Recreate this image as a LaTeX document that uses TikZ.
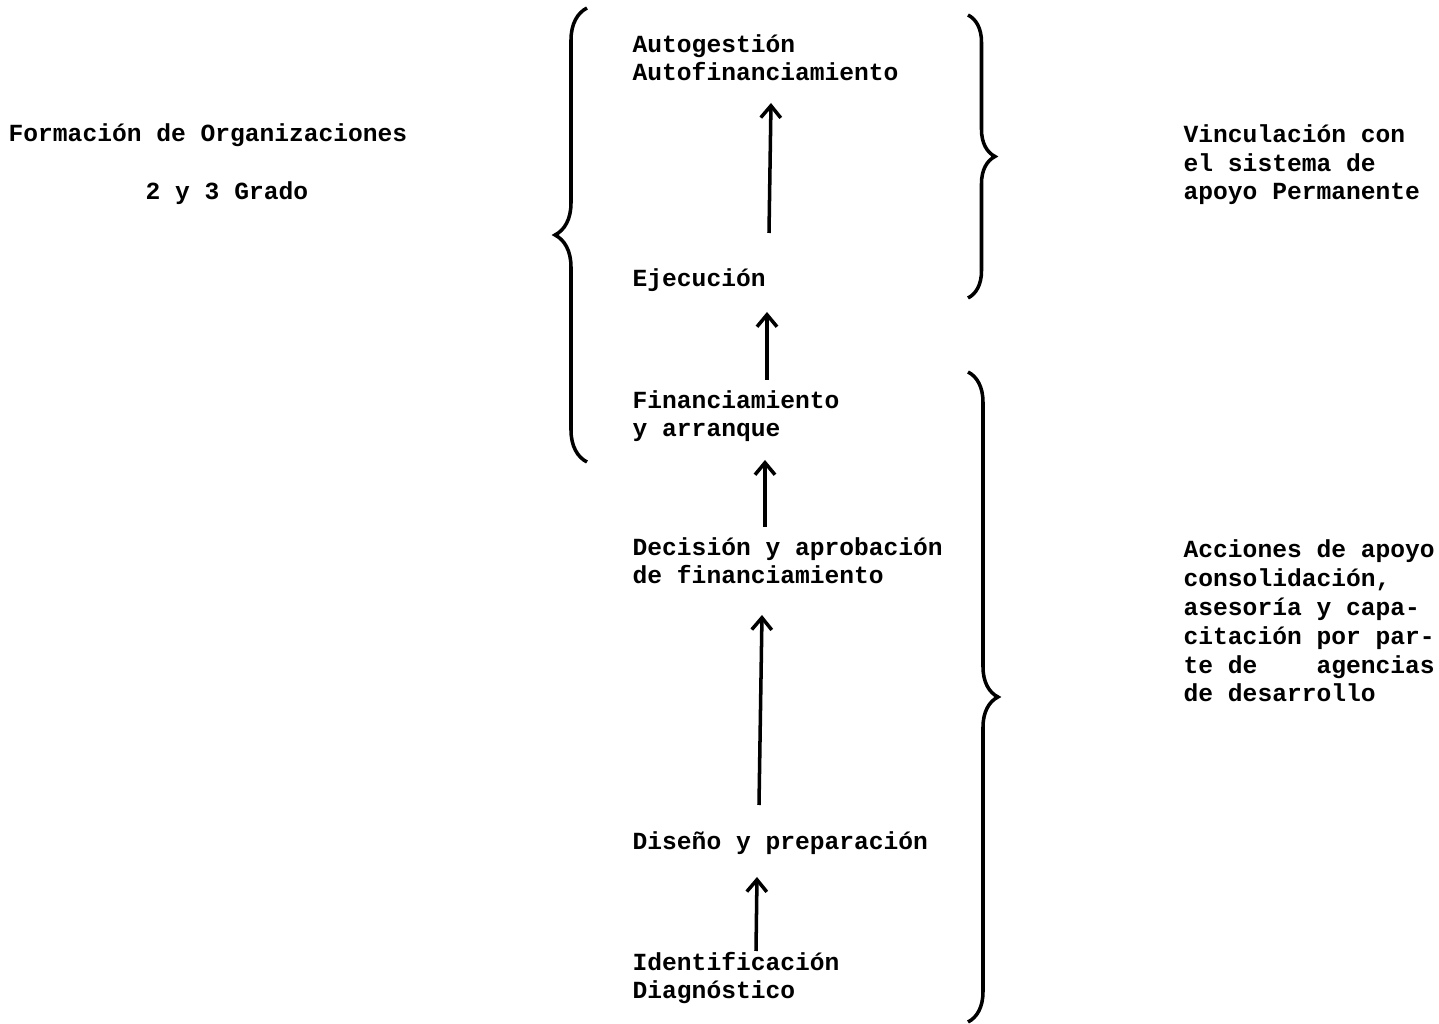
\documentclass[tikz,border=0pt]{standalone}
\usepackage{fontspec}
\setmainfont{Liberation Mono}
\usepackage{tikz}
\usetikzlibrary{arrows.meta,decorations.pathreplacing}
\tikzstyle{txt}=[anchor=base west,inner sep=0pt,align=left,
  font=\fontsize{7}{8.2}\selectfont\bfseries]
\tikzstyle{flecha}=[line width=1pt,-{Straight Barb[length=1.2mm,width=2mm,line width=1pt]}]
\tikzstyle{llave}=[line width=1pt,decorate]
\tikzstyle{none}=[inner sep=0pt]

\begin{document}
\begin{tikzpicture}
            \useasboundingbox (0, 0) rectangle (14.39, 10.24);
            \node [style=txt] (0) at (0.08, 8.82) {Formación de Organizaciones};
            \node [style=txt] (1) at (1.45, 8.24) {2 y 3 Grado};
            \node [style=txt] (2) at (6.32, 9.43) {Autogestión\\Autofinanciamiento};
            \node [style=txt] (3) at (6.32, 7.37) {Ejecución};
            \node [style=txt] (4) at (6.32, 5.87) {Financiamiento\\y arranque};
            \node [style=txt] (5) at (6.32, 4.40) {Decisión y aprobación\\de financiamiento};
            \node [style=txt] (6) at (6.32, 1.74) {Diseño y preparación};
            \node [style=txt] (7) at (6.32, 0.25) {Identificación\\Diagnóstico};
            \node [style=txt] (8) at (11.83, 8.24) {Vinculación con\\el sistema de\\apoyo Permanente};
            \node [style=txt] (9) at (11.83, 3.22) {Acciones de apoyo\\consolidación,\\asesoría y capa-\\citación por par-\\te de~~~~agencias\\de desarrollo};
            \node [style=none] (10) at (7.69, 7.91) {};
            \node [style=none] (11) at (7.71, 9.21) {};
            \node [style=none] (12) at (7.67, 6.44) {};
            \node [style=none] (13) at (7.67, 7.12) {};
            \node [style=none] (14) at (7.65, 4.97) {};
            \node [style=none] (15) at (7.65, 5.64) {};
            \node [style=none] (16) at (7.59, 2.19) {};
            \node [style=none] (17) at (7.62, 4.09) {};
            \node [style=none] (18) at (7.56, 0.73) {};
            \node [style=none] (19) at (7.57, 1.47) {};
            \node [style=none] (20) at (5.87, 5.62) {};
            \node [style=none] (21) at (5.87, 10.16) {};
            \node [style=none] (22) at (9.68, 10.09) {};
            \node [style=none] (23) at (9.68, 7.26) {};
            \node [style=none] (24) at (9.68, 6.52) {};
            \node [style=none] (25) at (9.68, 0.02) {};
            \draw [style=flecha] (10.center) to (11.center);
            \draw [style=flecha] (12.center) to (13.center);
            \draw [style=flecha] (14.center) to (15.center);
            \draw [style=flecha] (16.center) to (17.center);
            \draw [style=flecha] (18.center) to (19.center);
            \draw [style=llave, decoration={brace, amplitude=0.32cm}] (20.center) to (21.center);
            \draw [style=llave, decoration={brace, amplitude=0.27cm}] (22.center) to (23.center);
            \draw [style=llave, decoration={brace, amplitude=0.30cm}] (24.center) to (25.center);
\end{tikzpicture}
\end{document}
